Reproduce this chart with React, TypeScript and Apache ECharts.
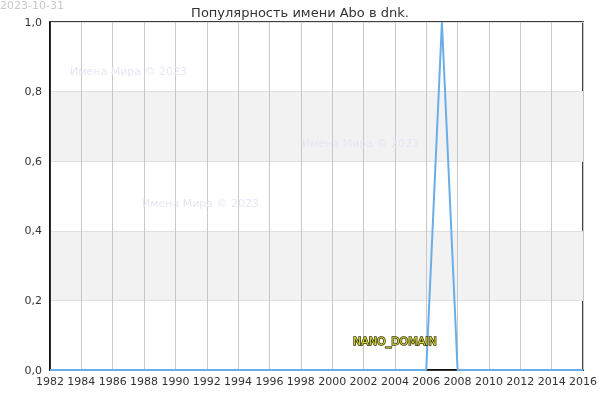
import { useEffect, useRef } from "react";
import * as echarts from "echarts";

const years = [
  1982, 1983, 1984, 1985, 1986, 1987, 1988, 1989, 1990, 1991, 1992, 1993,
  1994, 1995, 1996, 1997, 1998, 1999, 2000, 2001, 2002, 2003, 2004, 2005,
  2006, 2007, 2008, 2009, 2010, 2011, 2012, 2013, 2014, 2015, 2016,
];
const popularity = [
  0, 0, 0, 0, 0, 0, 0, 0, 0, 0, 0, 0,
  0, 0, 0, 0, 0, 0, 0, 0, 0, 0, 0, 0,
  0, 1, 0, 0, 0, 0, 0, 0, 0, 0, 0,
];
const titleText = "Популярность имени Abo в dnk.";
const dateText = "2023-10-31";
const watermark = "Имена Мира © 2023";

export default function App(): JSX.Element {
  const chartRef = useRef<HTMLDivElement>(null);
  useEffect(() => {
    const chart = echarts.init(chartRef.current, null, { renderer: "svg" });
    const font = "DejaVu Sans";
    const mark = (x: number, y: number) => ({
      type: "text",
      x,
      y,
      z: 50,
      style: { text: watermark, fill: "#e6e6f8", fontSize: 11, fontFamily: font },
    });
    const option = {
      animation: false,
      textStyle: { fontFamily: font },
      title: {
        text: titleText,
        left: "center",
        top: 1,
        textStyle: { fontSize: 13, fontWeight: "normal", color: "#333", fontFamily: font },
      },
      grid: {
        left: 50,
        right: 15,
        top: 22,
        bottom: 30,
        show: true,
        borderColor: "#000",
        borderWidth: 1.5,
        backgroundColor: "#fff",
      },
      xAxis: {
        type: "value",
        min: 1982,
        max: 2016,
        interval: 2,
        axisLine: { show: true, lineStyle: { color: "#000", width: 1.5 } },
        axisTick: { show: false },
        axisLabel: {
          formatter: (v: number) => String(v),
          fontSize: 11,
          color: "#333",
          margin: 6,
        },
        splitLine: { show: true, lineStyle: { color: "#c8c8c8", width: 1 } },
      },
      yAxis: {
        type: "value",
        min: 0,
        max: 1,
        interval: 0.2,
        axisLine: { show: true, lineStyle: { color: "#000", width: 1.5 } },
        axisTick: { show: false },
        axisLabel: {
          formatter: (v: number) => v.toFixed(1).replace(".", ","),
          fontSize: 11,
          color: "#333",
          margin: 8,
        },
        splitLine: { show: true, lineStyle: { color: "#e0e0e0", width: 1 } },
        splitArea: { show: true, areaStyle: { color: ["rgba(0,0,0,0)", "#f2f2f2"] } },
      },
      series: [
        {
          type: "line",
          data: years.map((y, i) => [y, popularity[i]]),
          showSymbol: false,
          lineStyle: { color: "#6aaee8", width: 2 },
          itemStyle: { color: "#6aaee8" },
        },
      ],
      graphic: [
        {
          type: "text",
          x: 0,
          y: 0,
          style: { text: dateText, fill: "#c8c8c8", fontSize: 11, fontFamily: font },
        },
        mark(70, 66),
        mark(302, 138),
        mark(142, 198),
        {
          type: "text",
          x: 353,
          y: 336,
          z: 100,
          style: {
            text: "NANO_DOMAIN",
            fill: "#d8d840",
            stroke: "#333300",
            lineWidth: 1.5,
            fontSize: 11,
            fontFamily: font,
          },
        },
      ],
    };
    chart.setOption(option);
    return () => {
      chart.dispose();
    };
  }, []);

  return (
    <div
      ref={chartRef}
      style={{ position: "fixed", left: 0, top: 0, width: 600, height: 400 }}
    ></div>
  );
}
